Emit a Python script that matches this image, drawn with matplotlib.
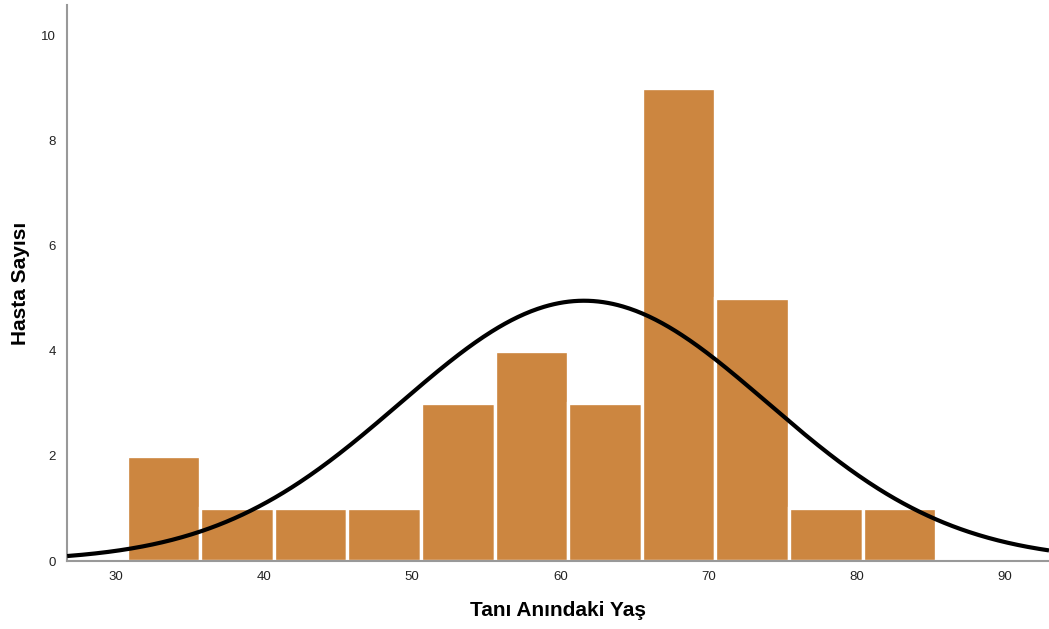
import numpy as np
import matplotlib
matplotlib.use("Agg")
import matplotlib.pyplot as plt

plt.rcParams['font.family'] = ['Liberation Sans', 'DejaVu Sans']

# Data
bin_start = 30.72
bin_width = 4.97
counts = [2, 1, 1, 1, 3, 4, 3, 9, 5, 1, 1]
fit_mean = 61.6
fit_sd = 12.42
x_ticks = [30, 40, 50, 60, 70, 80, 90]
y_ticks = [0, 2, 4, 6, 8, 10]

n_total = sum(counts)
edges = bin_start + bin_width * np.arange(len(counts) + 1)

fig = plt.figure(figsize=(10.49, 6.29), dpi=100)
ax = fig.add_axes([0.064, 0.108, 0.936, 0.884])

ax.bar(edges[:-1], counts, width=bin_width, align='edge',
       color='#CC8640', edgecolor='white', linewidth=2.4, zorder=2)

xs = np.linspace(26.7, 93.0, 600)
ys = n_total * bin_width / (fit_sd * np.sqrt(2 * np.pi)) * np.exp(-0.5 * ((xs - fit_mean) / fit_sd) ** 2)
ax.plot(xs, ys, color='black', linewidth=3, zorder=3, solid_capstyle='butt')

ax.set_xlim(26.7, 93.0)
ax.set_ylim(0, 10.57)
ax.set_xticks(x_ticks)
ax.set_yticks(y_ticks)
ax.tick_params(length=0, labelsize=9.5, colors='#222222', pad=7)
ax.tick_params(axis='y', pad=8)

for s in ['top', 'right']:
    ax.spines[s].set_visible(False)
for s in ['left', 'bottom']:
    ax.spines[s].set_color('#999999')
    ax.spines[s].set_linewidth(1.5)

ax.set_xlabel('Tanı Anındaki Yaş', fontsize=15, fontweight='bold', labelpad=13)
ax.set_ylabel('Hasta Sayısı', fontsize=15, fontweight='bold', labelpad=8)

fig.savefig('out.png', dpi=100)
